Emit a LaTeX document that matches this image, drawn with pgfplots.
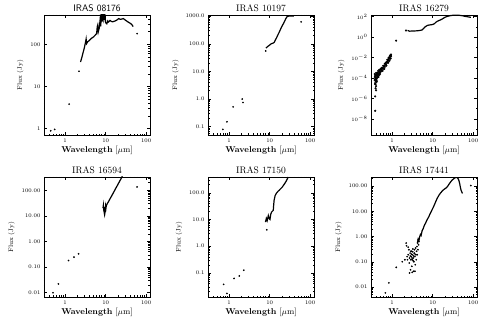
\documentclass[border=0pt]{standalone}
\usepackage{pgfplots}
\pgfplotsset{compat=1.18}
\pgfplotsset{
 every axis/.append style={
  scale only axis, width=106pt, height=120pt,
  anchor=north west, xmin=0.3, xmax=125,
  xtick={1,10,100}, xticklabels={1,10,100},
  minor xtick={0.3,0.4,0.5,0.6,0.7,0.8,0.9,2,3,4,5,6,7,8,9,20,30,40,50,60,70,80,90},
  tick label style={font=\fontsize{5.5}{6}\selectfont},
  xlabel={\textbf{Wavelength} [$\mu$m]}, ylabel={Flux (Jy)},
  xlabel style={font=\fontsize{8.5}{9}\selectfont, yshift=3pt},
  ylabel style={font=\fontsize{6.5}{7}\selectfont},
  title style={font=\fontsize{9.5}{10}\selectfont, yshift=-6pt},
  major tick length=3pt, minor tick length=1.5pt,
  axis line style={line width=0.6pt},
  every tick/.style={black, line width=0.5pt},
 },
}
\tikzset{
 specline/.style={black, line width=1.2pt, mark=none},
 ptsmark/.style={only marks, mark=*, mark size=0.65pt, black},
}
\begin{document}
\begin{tikzpicture}
\useasboundingbox (0,0) rectangle (491pt,327pt);
% ---------- IRAS 08176
\begin{loglogaxis}[at={(44pt,312pt)}, title={\sffamily IRAS 08176},
  ymin=0.7, ymax=500, ytick={1,10,100}, yticklabels={1,10,100},
  minor ytick={2,3,4,5,6,7,8,9,20,30,40,50,60,70,80,90,200,300,400}]
\addplot[ptsmark] coordinates {(0.44,0.88) (0.55,0.95) (1.25,3.8) (2.2,23) (60,180)};
\addplot[specline] coordinates {
(2.4,38) (2.6,50) (2.8,66) (3.0,85) (3.2,115) (3.3,135) (3.4,105) (3.6,115)
(4.0,125) (4.5,140) (5.0,150) (5.5,165) (6.0,180) (6.2,260) (6.4,290) (6.6,200)
(7.0,250) (7.3,380) (7.6,270) (7.8,560) (8.2,350) (8.6,600) (9.0,400) (9.5,560)
(10.0,330) (10.7,310) (11.3,360) (11.8,340) (12.9,370) (14,350) (15,345) (17,360)
(19,380) (21,410) (23,395) (25,400) (27.5,410) (30,385) (33,360) (36,340) (40,320)
(44,300) (48,265)};
\end{loglogaxis}
% ---------- IRAS 10197
\begin{loglogaxis}[at={(208pt,312pt)}, title={IRAS 10197},
  ymin=0.05, ymax=1100, ytick={0.1,1,10,100,1000},
  yticklabels={0.1,1.0,10.0,100.0,1000.0},
  minor ytick={0.06,0.07,0.08,0.09,0.2,0.3,0.4,0.5,0.6,0.7,0.8,0.9,2,3,4,5,6,7,8,9,20,30,40,50,60,70,80,90,200,300,400,500,600,700,800,900}]
\addplot[ptsmark] coordinates {(0.7,0.08) (0.88,0.15) (1.25,0.52) (2.1,1.0) (2.2,0.75) (8.0,55) (60,620)};
\addplot[specline] coordinates {
(8.1,70) (9,80) (10,90) (11,100) (12,105) (13,112) (14,140) (15,170) (16,210)
(17,250) (18,300) (19,360) (20,420) (21,480) (22,540) (23,620) (24,700) (25,800)
(26,880) (27,960) (30,1010) (35,1020) (40,1000)};
\end{loglogaxis}
% ---------- IRAS 16279
\begin{loglogaxis}[at={(371pt,312pt)}, title={IRAS 16279},
  ymin=2.7e-10, ymax=145, ytick={1e-8,1e-6,1e-4,1e-2,1,100},
  minor ytick={1e-9,1e-7,1e-5,1e-3,0.1,10}]
\addplot[ptsmark, mark size=0.85pt] coordinates {
(0.37,6.3e-5) (0.37,1.26e-4) (0.37,2.5e-4) (0.38,3.2e-5) (0.38,7.9e-5) (0.38,1.6e-4)
(0.38,2.5e-5) (0.39,5e-5) (0.39,2.5e-5) (0.39,1e-4) (0.39,2e-4) (0.40,6.3e-5)
(0.40,1.26e-4) (0.40,1.6e-5) (0.40,3.2e-4) (0.41,7.9e-5) (0.41,2e-4) (0.41,4e-5)
(0.42,1e-4) (0.42,2.5e-4) (0.42,5e-5) (0.43,1.6e-4) (0.43,3.2e-4) (0.44,1.26e-4)
(0.44,3.2e-4) (0.45,2e-4) (0.45,5e-4) (0.46,2.5e-4) (0.46,1.26e-4) (0.47,4e-4)
(0.48,2e-4) (0.48,6.3e-4) (0.49,3.2e-4) (0.50,5e-4) (0.50,2.5e-4) (0.52,4e-4)
(0.52,7.9e-4) (0.53,6.3e-4) (0.55,5e-4) (0.55,1e-3) (0.56,7.9e-4) (0.58,1e-3)
(0.58,5e-4) (0.60,7.9e-4) (0.60,1.6e-3) (0.62,1.26e-3) (0.64,1.6e-3) (0.64,7.9e-4)
(0.66,1.26e-3) (0.66,2.5e-3) (0.68,2.5e-3) (0.70,2e-3) (0.70,3.2e-3) (0.72,3.2e-3)
(0.72,1.6e-3) (0.74,4e-3) (0.76,3.2e-3) (0.76,6.3e-3) (0.78,5e-3) (0.80,6.3e-3)
(0.80,3.2e-3) (0.82,5e-3) (0.82,1e-2) (0.84,7.9e-3) (0.86,1e-2) (0.86,5e-3)
(0.88,7.9e-3) (0.88,1.6e-2) (0.90,1.26e-2) (0.92,1.6e-2) (0.92,7.9e-3) (0.94,1.26e-2)
(0.94,2e-2) (0.39,1e-5) (0.40,6.3e-6) (0.38,1.6e-6) (0.38,6.3e-8)
(1.25,0.45) (2.2,4.4)};
\addplot[specline] coordinates {
(2.4,4.5) (2.7,3.8) (3.0,3.9) (3.5,4.0) (4.0,4.1) (4.5,4.3) (5.0,4.6) (5.5,5.0)
(6.0,7) (6.5,10) (7,12) (7.5,14) (8,15) (9,16) (10,17) (11,20) (12,28) (13,35)
(14,40) (16,50) (18,65) (20,85) (22,100) (25,115) (28,128) (32,136) (36,140)
(40,140) (45,136) (50,128) (55,122) (60,112) (70,100) (80,92) (88,85)};
\end{loglogaxis}
% ---------- IRAS 16594
\begin{loglogaxis}[at={(44pt,150pt)}, title={IRAS 16594},
  ymin=0.0068, ymax=330, ytick={0.01,0.1,1,10,100},
  yticklabels={0.01,0.10,1.00,10.00,100.00},
  minor ytick={0.02,0.03,0.04,0.05,0.06,0.07,0.08,0.09,0.2,0.3,0.4,0.5,0.6,0.7,0.8,0.9,2,3,4,5,6,7,8,9,20,30,40,50,60,70,80,90,200,300}]
\addplot[ptsmark] coordinates {(0.5,0.010) (0.68,0.022) (1.21,0.18) (1.65,0.245) (2.15,0.33) (60,135)};
\addplot[specline] coordinates {
(8.6,20) (8.8,26) (9.0,17) (9.2,14) (9.4,22) (9.6,13) (9.8,16) (10.0,24) (10.2,20)
(10.4,25) (11,30) (12,38) (13,48) (14,59) (15,72) (16,87) (17,104) (18,123) (19,143)
(20,166) (21,191) (22,219) (23,250) (24,283) (25,320) (26,350)};
\end{loglogaxis}
% ---------- IRAS 17150
\begin{loglogaxis}[at={(208pt,150pt)}, title={IRAS 17150},
  ymin=0.0125, ymax=390, ytick={0.1,1,10,100},
  yticklabels={0.1,1.0,10.0,100.0},
  minor ytick={0.02,0.03,0.04,0.05,0.06,0.07,0.08,0.09,0.2,0.3,0.4,0.5,0.6,0.7,0.8,0.9,2,3,4,5,6,7,8,9,20,30,40,50,60,70,80,90,200,300}]
\addplot[ptsmark] coordinates {(0.73,0.037) (0.88,0.017) (1.32,0.062) (1.78,0.077) (2.3,0.126) (8.5,4.1)};
\addplot[specline] coordinates {
(7.9,8) (8.3,11) (8.7,9) (9.3,14) (9.7,11) (10.2,10) (10.7,16) (11.2,19) (12.3,22)
(12.6,35) (12.9,52) (13.7,79) (14.8,97) (16,112) (17.1,123) (19,145) (20.6,164)
(22.5,200) (24.9,251) (27,320) (28.8,390)};
\end{loglogaxis}
% ---------- IRAS 17441
\begin{loglogaxis}[at={(371pt,150pt)}, title={IRAS 17441},
  ymin=0.004, ymax=230, ytick={0.01,0.1,1,10,100},
  yticklabels={0.01,0.10,1.00,10.00,100.00},
  minor ytick={0.005,0.006,0.007,0.008,0.009,0.02,0.03,0.04,0.05,0.06,0.07,0.08,0.09,0.2,0.3,0.4,0.5,0.6,0.7,0.8,0.9,2,3,4,5,6,7,8,9,20,30,40,50,60,70,80,90,200}]
\addplot[ptsmark] coordinates {(0.68,0.0058) (0.83,0.0145) (1.26,0.06) (1.77,0.1) (88,105)
(2.22,0.55) (2.27,0.43) (2.35,0.16) (2.40,0.12) (2.49,0.19) (2.59,0.30) (2.64,0.089)
(2.69,0.14) (2.79,0.22) (2.85,0.048) (2.90,0.12) (2.96,0.16) (3.02,0.26) (3.07,0.066)
(3.13,0.12) (3.19,0.19) (3.25,0.32) (3.32,0.14) (3.38,0.042) (3.44,0.10) (3.51,0.22)
(3.58,0.30) (3.65,0.16) (3.72,0.076) (3.79,0.35) (3.86,0.19) (3.94,0.12) (4.01,0.26)
(4.09,0.40) (4.17,0.19) (4.25,0.55) (4.33,0.30) (4.41,0.74) (4.50,0.47) (4.58,0.63)
(2.69,0.036) (3.13,0.038) (3.65,0.042) (2.49,0.38) (2.06,0.12)
(2.8,0.17) (3.0,0.2) (3.2,0.25) (3.4,0.17) (3.6,0.21) (3.1,0.14) (3.3,0.11) (2.9,0.26)};
\addplot[specline] coordinates {
(4.2,0.55) (4.4,0.8) (4.6,0.7) (4.8,1.0) (5.0,1.2) (5.2,1.1) (5.5,1.7) (5.8,2.0)
(6.1,2.5) (6.4,3.0) (6.7,3.4) (7.0,4.0) (7.5,5.0) (8.1,6.2) (8.5,7.5) (9.0,9)
(9.8,12) (10.5,15) (11.2,19) (11.9,24) (13,33) (14.4,44) (15.5,52) (16.7,60) (18,68)
(19.1,74) (20,78) (21,82) (23.1,94) (25,115) (28,148) (30,170) (33.7,200) (36,215)
(38.6,222) (41,215) (43.3,190) (45,160) (46.7,126) (48.5,90) (50.5,69) (54.5,51)};
\end{loglogaxis}
\end{tikzpicture}
\end{document}
